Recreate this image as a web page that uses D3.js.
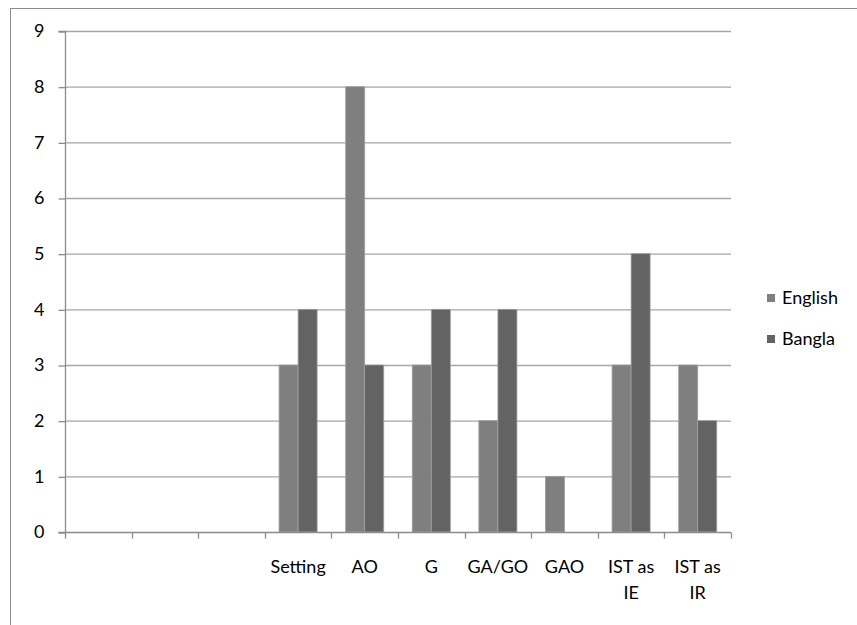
<!DOCTYPE html>
<html><head><meta charset="utf-8">
<script src="https://cdn.jsdelivr.net/npm/d3@7"></script>
<style>body{margin:0;background:#fff}svg{display:block}text{font-family:Lato,"Open Sans",sans-serif;fill:#000}</style>
</head><body>
<script>
const categories = ["", "", "", "Setting", "AO", "G", "GA/GO", "GAO", "IST as|IE", "IST as|IR"];
const seriesNames = ["English", "Bangla"];
const english = [null, null, null, 3, 8, 3, 2, 1, 3, 3];
const bangla = [null, null, null, 4, 3, 4, 4, 0, 5, 2];
const yTicks = [0,1,2,3,4,5,6,7,8,9];
const colors = ["#7f7f7f", "#636363"];

(function(){
const W = 857, H = 625, FS = 18, FF = "Lato, 'Open Sans', sans-serif";
const svg = d3.select("body").append("svg").attr("width", W).attr("height", H);
svg.append("rect").attr("x",10.5).attr("y",8.5).attr("width",1000).attr("height",1000)
  .attr("fill","none").attr("stroke","#8c8c8c").attr("stroke-width",1);

const pL = 65, pR = 731, pT = 31, pB = 532;
const x = d3.scaleBand().domain(d3.range(categories.length)).range([pL, pR]).paddingInner(0).paddingOuter(0);
const y = d3.scaleLinear().domain([0, 9]).range([pB, pT]);

svg.append("g").selectAll("line").data(yTicks.filter(d=>d>0)).join("line")
  .attr("x1", pL).attr("x2", pR).attr("y1", d=>y(d)+0.5).attr("y2", d=>y(d)+0.5)
  .attr("stroke","#a6a6a6").attr("stroke-width",1.3);

const bw = x.bandwidth() / 3.5;
const data = [english, bangla];
data.forEach((vals, si) => {
  svg.append("g").selectAll("rect").data(vals.map((v,i)=>({v,i})).filter(d=>d.v!=null && d.v>0)).join("rect")
    .attr("x", d => x(d.i) + x.bandwidth()/2 - bw + si*bw)
    .attr("y", d => y(d.v))
    .attr("width", bw)
    .attr("height", d => y(0) - y(d.v))
    .attr("fill", colors[si])
    .attr("stroke", "#a0a0a0").attr("stroke-width", 0.8);
});

const ya = svg.append("g").attr("transform", `translate(${pL+0.5},0)`)
  .call(d3.axisLeft(y).tickValues(yTicks).tickSize(7).tickPadding(14).tickFormat(d3.format("d")));
ya.select(".domain").attr("stroke","#8c8c8c").attr("stroke-width",1.3).attr("d", `M-7,${pT+0.5}H0V${pB+0.5}H-7`);
ya.selectAll(".tick line").attr("stroke","#8c8c8c").attr("stroke-width",1.3).attr("transform","translate(0,0.5)");
ya.selectAll(".tick text").attr("font-size",FS).attr("font-family",FF).attr("fill","#000");

const xa = svg.append("g").attr("transform", `translate(0,${pB+0.5})`);
xa.append("line").attr("x1", pL).attr("x2", pR).attr("stroke","#8c8c8c").attr("stroke-width",1.3);
const tickPos = d3.range(categories.length+1).map(i => pL + i*x.bandwidth());
xa.selectAll("line.t").data(tickPos).join("line").attr("class","t")
  .attr("x1", d=>Math.round(d)+0.5).attr("x2", d=>Math.round(d)+0.5).attr("y1",0).attr("y2",6)
  .attr("stroke","#8c8c8c").attr("stroke-width",1.3);
categories.forEach((c,i) => {
  const lines = c.split("|");
  const t = xa.append("text").attr("text-anchor","middle").attr("font-size",FS)
    .attr("x", x(i) + x.bandwidth()/2).attr("y", 40);
  lines.forEach((l,j) => t.append("tspan").attr("x", x(i)+x.bandwidth()/2).attr("dy", j? 26 : 0).text(l));
});

const lg = svg.append("g");
seriesNames.forEach((n,i) => {
  const cy = 298 + i*41;
  lg.append("rect").attr("x",767).attr("y",cy-4).attr("width",8).attr("height",8).attr("fill",colors[i]);
  lg.append("text").attr("x",782).attr("y",cy+6).attr("font-size",FS).text(n);
});
})();
</script>
</body></html>
